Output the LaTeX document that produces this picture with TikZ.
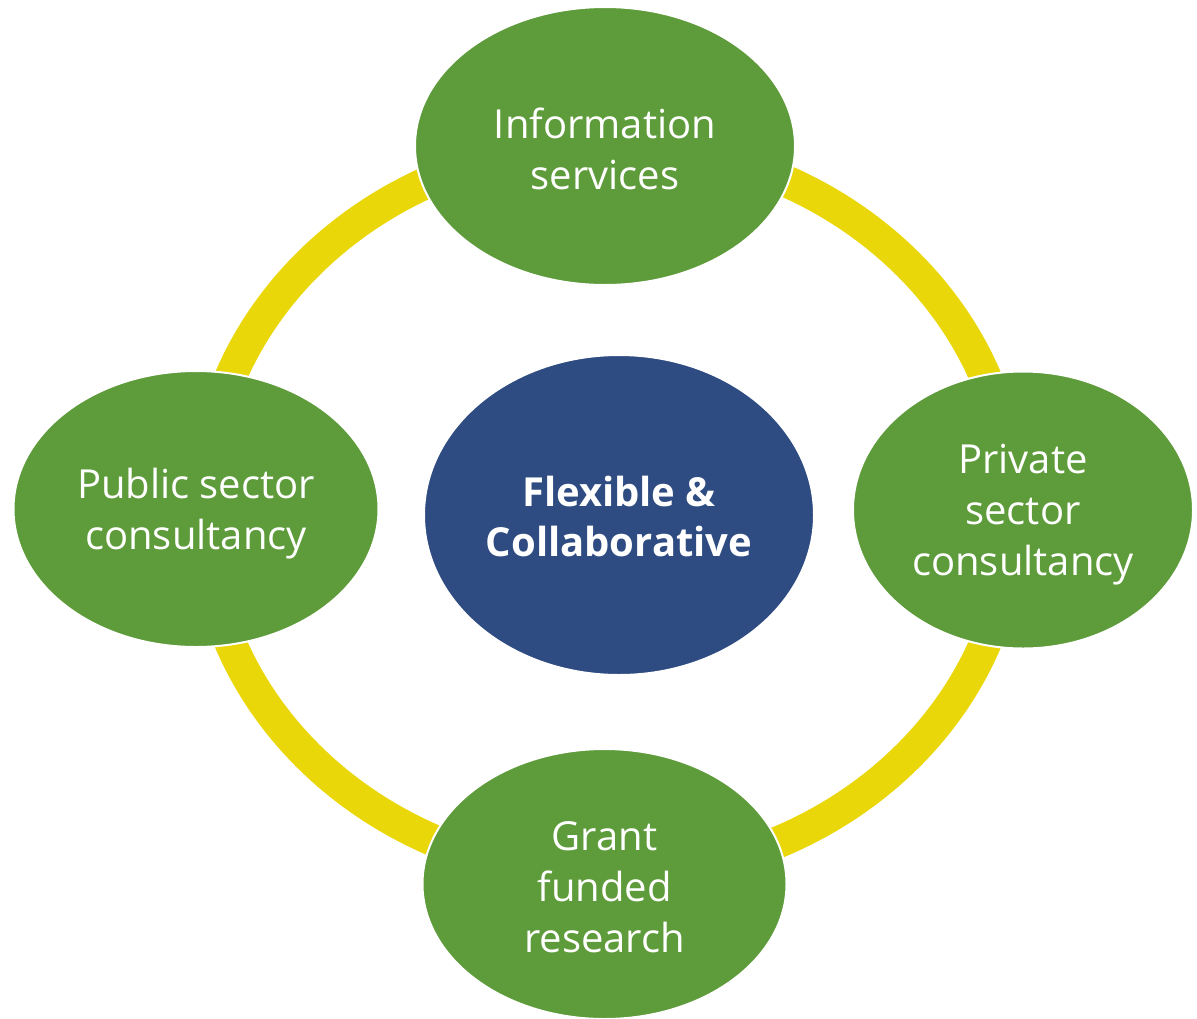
\documentclass[tikz,border=0pt]{standalone}
\usepackage{fontspec}
\setmainfont{Open Sans}
\usetikzlibrary{shapes.geometric}
\definecolor{leaf}{RGB}{94,155,58}
\definecolor{ringyellow}{RGB}{233,215,10}
\definecolor{navy}{RGB}{46,75,130}
\newcommand{\topstrut}[1]{\rule{0pt}{#1}}
\begin{document}
\begin{tikzpicture}[x=1pt,y=-1pt,
  bubble/.style={ellipse, fill=leaf, draw=white, line width=2pt, text=white,
    font=\fontsize{40}{51}\selectfont, align=center, inner sep=0pt},
  hub/.style={ellipse, fill=navy, draw=white, line width=2pt, text=white,
    font=\fontsize{40}{50}\selectfont\bfseries, align=center, inner sep=0pt},
  ringline/.style={draw=ringyellow, line width=32pt}]
\useasboundingbox (0,0) rectangle (1197,1018);
\coordinate (ringc) at (608,510);
\draw[ringline] (ringc) ellipse [x radius=405, y radius=366];
\node[bubble, minimum width=380pt, minimum height=278pt] (info) at (605,146) {\topstrut{36pt}Information\\services};
\node[bubble, minimum width=340pt, minimum height=277pt] (private) at (1023,510) {\topstrut{39pt}Private\\sector\\consultancy};
\node[bubble, minimum width=365pt, minimum height=276pt] (public) at (196,509) {\topstrut{39pt}Public sector\\consultancy};
\node[bubble, minimum width=364pt, minimum height=270pt] (grant) at (604.5,884) {\topstrut{36pt}Grant\\funded\\research};
\node[hub, minimum width=390pt, minimum height=320pt] (center) at (619,515) {\topstrut{34pt}Flexible \&\\Collaborative};
\end{tikzpicture}
\end{document}
